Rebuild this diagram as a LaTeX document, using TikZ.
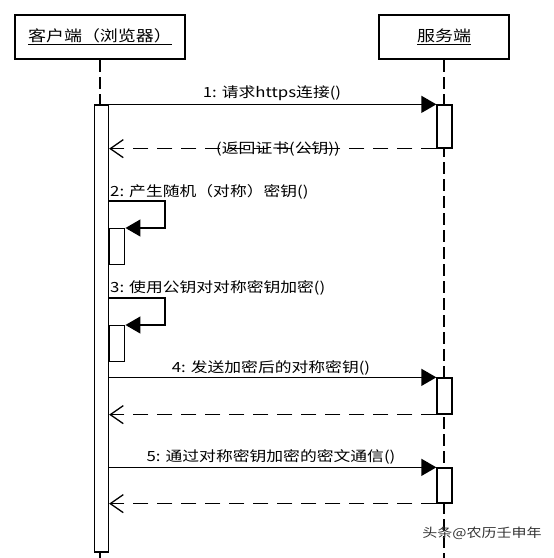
\documentclass[tikz,border=0pt]{standalone}
\usepackage{fontspec}
\newfontfamily\cjk[FakeStretch=1.2]{Noto Sans CJK SC}
\usepackage{tikz}
\usetikzlibrary{arrows.meta,calc}

\tikzset{
  headbox/.style={draw, line width=2.8pt, inner sep=0pt, font=\cjk\fontsize{15}{17}\selectfont},
  actbar/.style={draw, line width=1.3pt, fill=white, minimum width=14pt, inner sep=0pt},
  lifeline/.style={line width=1.3pt, dash pattern=on 12pt off 5pt},
  msg/.style={line width=1.3pt, -{Triangle[length=15pt,width=17pt]}},
  ret/.style={line width=1.3pt, dash pattern=on 15pt off 9pt, -{Straight Barb[length=13pt,width=18pt]}},
  lbl/.style={font=\cjk\fontsize{14}{16}\selectfont, inner sep=0pt},
}

\begin{document}
\begin{tikzpicture}[x=1pt,y=-1pt]
    \useasboundingbox (0,0) rectangle (554,558);

      % Objects
      \node[headbox, minimum width=170pt, minimum height=44pt] (cli) at (100,37) {\underline{客户端（浏览器）}};
      \node[headbox, minimum width=130pt, minimum height=44pt] (srv) at (444,37) {\underline{服务端}};

      % Lifelines
      \coordinate (cend) at (100,558);
      \coordinate (send) at (444,558);
      \draw[lifeline] (srv.south) -- (send);

      % Activations
      \node[actbar, minimum height=447pt] (cbar) at (101.5,328.5) {};
      \draw[lifeline] (cli.south) -- (cli.south |- cbar.north);
      \draw[line width=1.3pt] (cbar.south -| cend) -- (cend);
      \node[actbar, minimum width=15pt, minimum height=43pt] (sbar1) at (444.5,126.5) {};
      \node[actbar, minimum width=15pt, minimum height=36pt] (sbar2) at (444.5,396) {};
      \node[actbar, minimum width=15pt, minimum height=35pt] (sbar3) at (444.5,485.5) {};
      \node[actbar, minimum width=15pt, minimum height=36pt, anchor=north west] (nb1) at (cbar.east |- 0,228) {};
      \node[actbar, minimum width=15pt, minimum height=36pt, anchor=north west] (nb2) at (cbar.east |- 0,325) {};

      % 1
      \draw[msg] (cbar.north east) -- (sbar1.north west);
      \node[lbl] (l1) at (272,93) {1: 请求https连接()};
      \draw[ret] (sbar1.south west) -- (cbar.east |- sbar1.south);
      \node[lbl] (r1) at (278,149) {(返回证书(公钥))};

      % 2
      \coordinate (s2) at (165,201);
      \node[lbl, anchor=west] (l2) at (110,192) {2: 产生随机（对称）密钥()};
      \draw[msg] (cbar.east |- s2) -- (s2) |- (nb1.north east);

      % 3
      \coordinate (s3) at (165,298);
      \node[lbl, anchor=west] (l3) at (110,288) {3: 使用公钥对对称密钥加密()};
      \draw[msg] (cbar.east |- s3) -- (s3) |- (nb2.north east);

      % 4
      \draw[msg] (cbar.east |- sbar2.north) -- (sbar2.north west);
      \node[lbl] (l4) at (271,368) {4: 发送加密后的对称密钥()};
      \draw[ret] (sbar2.south west) -- (cbar.east |- sbar2.south);

      % 5
      \draw[msg] (cbar.east |- sbar3.north) -- (sbar3.north west);
      \node[lbl] (l5) at (271,457) {5: 通过对称密钥加密的密文通信()};
      \draw[ret] (sbar3.south west) -- (cbar.east |- sbar3.south);

      % Watermark
      \node[lbl, font=\cjk\fontsize{12.5}{14}\selectfont, text=black!80] (wm) at (482,533) {头条@农历壬申年};
  \end{tikzpicture}
\end{document}
